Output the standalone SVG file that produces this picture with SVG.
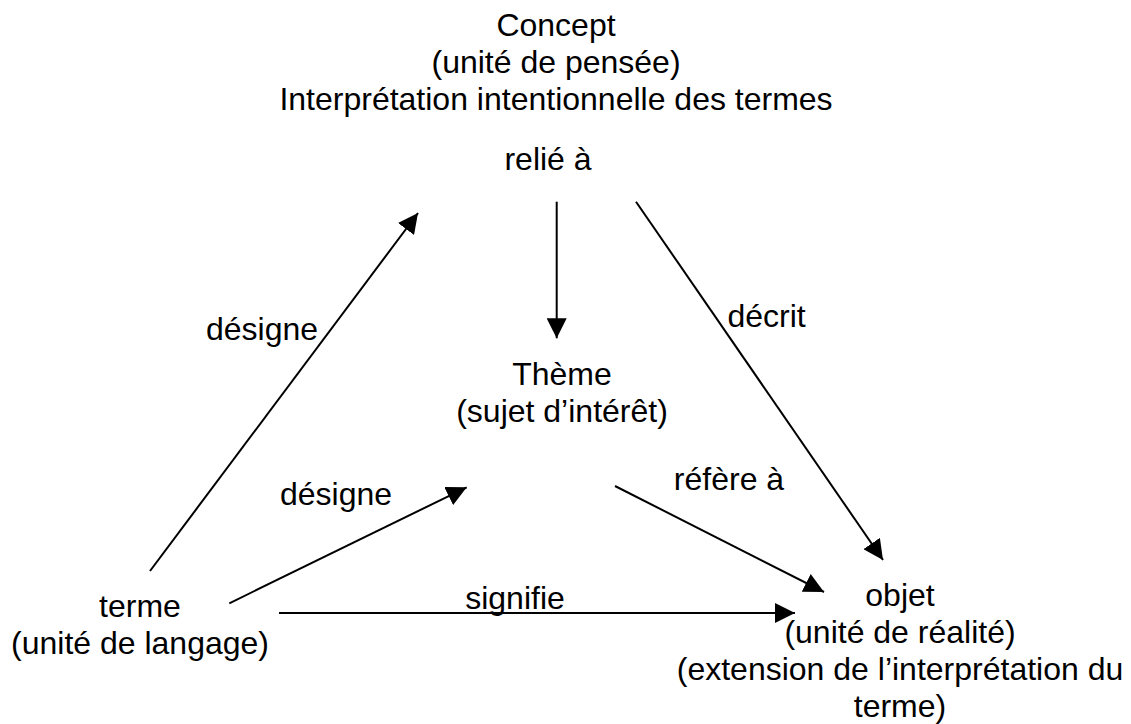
<svg xmlns="http://www.w3.org/2000/svg" width="1131" height="724" viewBox="0 0 1131 724">
<style>
text{font-family:"Liberation Sans",Arial,sans-serif;font-size:32px;fill:#000;text-anchor:middle}
.c{stroke:#000;stroke-width:2;fill:none}
</style>
<defs>
<marker id="ah" markerUnits="userSpaceOnUse" markerWidth="20" markerHeight="20" refX="20" refY="10" orient="auto">
<path d="M0,0 L20,10 L0,20 Z" fill="#000"/>
</marker>
</defs>
<rect width="1131" height="724" fill="#fff"/>
<g id="concept">
<text x="556" y="36">Concept</text>
<text x="556" y="73">(unité de pensée)</text>
<text x="556" y="110">Interprétation intentionnelle des termes</text>
<text x="548" y="170">relié à</text>
</g>
<g id="theme">
<text x="562" y="385">Thème</text>
<text x="562" y="422">(sujet d’intérêt)</text>
</g>
<g id="terme">
<text x="140" y="617">terme</text>
<text x="140" y="654">(unité de langage)</text>
</g>
<g id="objet">
<text x="900" y="606">objet</text>
<text x="900" y="643">(unité de réalité)</text>
<text x="900" y="680">(extension de l’interprétation du</text>
<text x="900" y="717">terme)</text>
</g>
<g id="connectors">
<line class="c" x1="150" y1="571" x2="418" y2="213" marker-end="url(#ah)"/>
<line class="c" x1="556.7" y1="201.7" x2="556.7" y2="338.3" marker-end="url(#ah)"/>
<line class="c" x1="636" y1="201.7" x2="883" y2="560" marker-end="url(#ah)"/>
<line class="c" x1="229.3" y1="603.3" x2="466.7" y2="487.3" marker-end="url(#ah)"/>
<line class="c" x1="615" y1="486" x2="824" y2="592" marker-end="url(#ah)"/>
<line class="c" x1="279" y1="613" x2="795" y2="613" marker-end="url(#ah)"/>
</g>
<g id="labels">
<text x="262" y="340">désigne</text>
<text x="766.5" y="327">décrit</text>
<text x="336" y="505">désigne</text>
<text x="729" y="490">réfère à</text>
<text x="515" y="609">signifie</text>
</g>
</svg>
